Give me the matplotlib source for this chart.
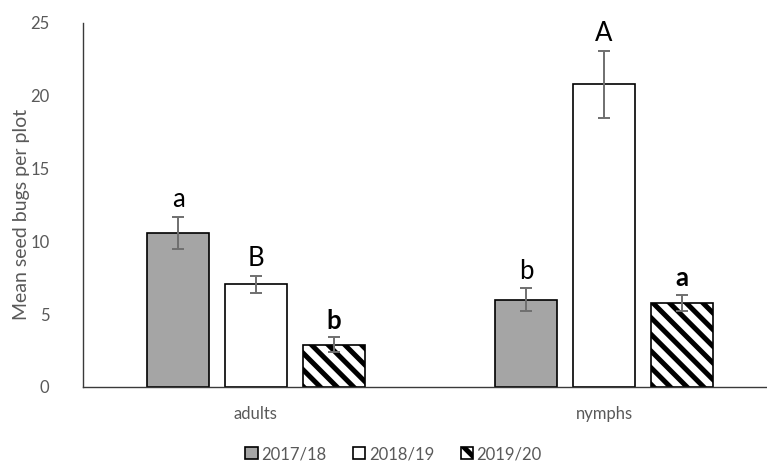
import matplotlib.pyplot as plt
import numpy as np
from matplotlib.patches import Patch

plt.rcParams['font.family'] = ['Lato', 'DejaVu Sans']
plt.rcParams['hatch.linewidth'] = 3.6

groups = ['adults', 'nymphs']
seasons = ['2017/18', '2018/19', '2019/20']
means = {
    '2017/18': [10.6, 6.0],
    '2018/19': [7.05, 20.8],
    '2019/20': [2.9, 5.8],
}
errors = {
    '2017/18': [1.1, 0.8],
    '2018/19': [0.6, 2.3],
    '2019/20': [0.5, 0.55],
}
letters = {
    '2017/18': ['a', 'b'],
    '2018/19': ['B', 'A'],
    '2019/20': ['b', 'a'],
}
bold_letters = {'2019/20'}

styles = {
    '2017/18': dict(color='#a5a5a5', hatch=None),
    '2018/19': dict(color='white', hatch=None),
    '2019/20': dict(color='white', hatch='\\\\'),
}

fig = plt.figure(figsize=(7.67, 4.70), dpi=100)
ax = fig.add_axes([0.108, 0.1766, 0.892, 0.7745])

x = np.arange(len(groups))
width = 0.178
step = 0.223
for i, s in enumerate(seasons):
    pos = x + (i - 1) * step
    ax.bar(pos, means[s], width, color=styles[s]['color'], hatch=styles[s]['hatch'],
           edgecolor='black', linewidth=1.2, zorder=2)
    ax.errorbar(pos, means[s], yerr=errors[s], fmt='none', ecolor='#6f6f6f',
                elinewidth=1.4, capsize=4.5, capthick=1.4, zorder=3)
    for p, m, e, lab in zip(pos, means[s], errors[s], letters[s]):
        ax.annotate(lab, (p, m + e), xytext=(0, 3), textcoords='offset points',
                    ha='center', va='bottom', fontsize=18.5,
                    fontweight='bold' if s in bold_letters else 'normal')

ax.set_xlim(-0.497, 1.468)
ax.set_ylim(0, 25)
ax.set_yticks(range(0, 26, 5))
ax.set_xticks(x)
ax.set_xticklabels(groups)
ax.tick_params(axis='both', length=0, labelsize=12, labelcolor='#595959')
ax.tick_params(axis='y', pad=24)
ax.tick_params(axis='x', pad=14)
ax.set_ylabel('Mean seed bugs per plot', fontsize=14, color='#595959', labelpad=0)
ax.yaxis.set_label_coords(-0.077, 0.475)

for side in ['top', 'right']:
    ax.spines[side].set_visible(False)
ax.spines['left'].set_color('#3a3a3a')
ax.spines['bottom'].set_color('#3a3a3a')
ax.spines['left'].set_linewidth(1.0)
ax.spines['bottom'].set_linewidth(1.0)

handles = [Patch(facecolor=styles[s]['color'], hatch=styles[s]['hatch'],
                 edgecolor='black', linewidth=1.2) for s in seasons]
fig.legend(handles, seasons, loc='lower center', ncol=3, frameon=False,
           bbox_to_anchor=(0.513, -0.015), fontsize=12, handlelength=0.75,
           handleheight=0.75, handletextpad=0.2, columnspacing=1.6,
           labelcolor='#595959')

fig.savefig('out.png', dpi=100)
